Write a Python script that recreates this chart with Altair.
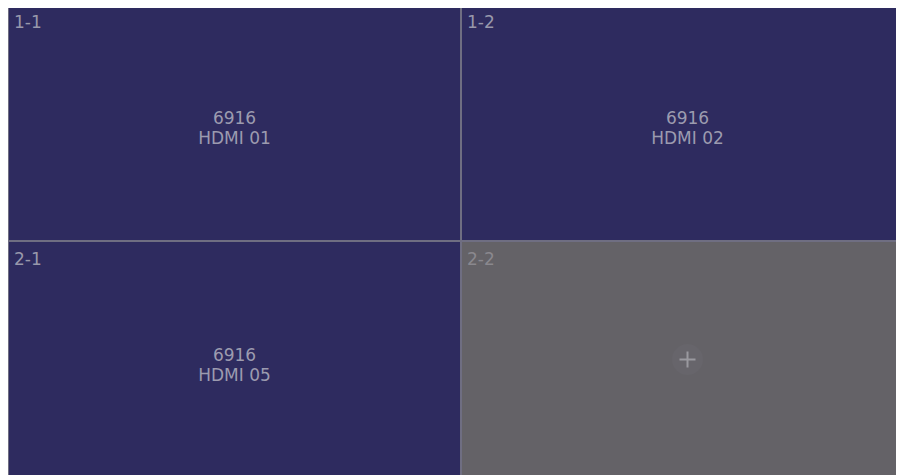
import altair as alt
import pandas as pd

# ---- data ----
cell_rows = [0, 0, 1, 1]
cell_cols = [0, 1, 0, 1]
cell_names = ["1-1", "1-2", "2-1", "2-2"]
models = ["6916", "6916", "6916", ""]
sources = ["HDMI 01", "HDMI 02", "HDMI 05", ""]
states = ["source", "source", "source", "empty"]

df = pd.DataFrame({
    "row": cell_rows,
    "col": cell_cols,
    "name": cell_names,
    "model": models,
    "src": sources,
    "state": states,
})

# ---- layout ----
CELL_W, CELL_H = 453, 237
W, H = 888, 467
TOP_CLIP = 4

NAVY = "#2e2b5f"
GREY = "#646267"
FONT = "DejaVu Sans"
FS = 17

xs = alt.Scale(domain=[0, W / CELL_W], nice=False, zero=False)
ys = alt.Scale(domain=[TOP_CLIP / CELL_H, (TOP_CLIP + H) / CELL_H],
               nice=False, zero=False, reverse=True)

base = alt.Chart(df).transform_calculate(
    col2="datum.col + 1",
    row2="datum.row + 1",
    cx="datum.col + 0.5",
    cy="datum.row + 0.5",
)

is_src = "datum.state == 'source'"

cells = base.mark_rect(clip=True, stroke="#6f6e82", strokeWidth=2).encode(
    x=alt.X("col:Q", scale=xs, axis=None),
    x2="col2:Q",
    y=alt.Y("row:Q", scale=ys, axis=None),
    y2="row2:Q",
    fill=alt.condition(is_src, alt.value(NAVY), alt.value(GREY)),
)

labels = base.mark_text(
    align="left", baseline="alphabetic", dx=6, dy=24,
    font=FONT, fontSize=FS, clip=True,
).encode(
    x=alt.X("col:Q", scale=xs, axis=None),
    y=alt.Y("row:Q", scale=ys, axis=None),
    text="name:N",
    color=alt.condition(is_src, alt.value("#9898ab"), alt.value("#8a888e")),
)

src_base = base.transform_filter(is_src)

line1 = src_base.mark_text(
    align="center", baseline="alphabetic", dy=1,
    font=FONT, fontSize=FS, color="#9c9baf", clip=True,
).encode(
    x=alt.X("cx:Q", scale=xs, axis=None),
    y=alt.Y("cy:Q", scale=ys, axis=None),
    text="model:N",
)

line2 = src_base.mark_text(
    align="center", baseline="alphabetic", dy=21,
    font=FONT, fontSize=FS, color="#9c9baf", clip=True,
).encode(
    x=alt.X("cx:Q", scale=xs, axis=None),
    y=alt.Y("cy:Q", scale=ys, axis=None),
    text="src:N",
)

empty_base = base.transform_filter("datum.state == 'empty'")

halo = empty_base.mark_point(
    shape="circle", filled=True, size=962, color="#67656b", opacity=1, clip=True,
).encode(
    x=alt.X("cx:Q", scale=xs, axis=None),
    y=alt.Y("cy:Q", scale=ys, axis=None),
)

plus = empty_base.mark_point(
    shape="M-1,0H1M0,-1V1", filled=False, size=256, strokeWidth=2,
    color="#9a999f", opacity=1, clip=True,
).encode(
    x=alt.X("cx:Q", scale=xs, axis=None),
    y=alt.Y("cy:Q", scale=ys, axis=None),
)

chart = alt.layer(cells, labels, line1, line2, halo, plus).properties(
    width=W, height=H, padding=0, background="white",
).configure_view(stroke=None)

chart.save("out.html", embed_options={"renderer": "svg", "actions": False})
